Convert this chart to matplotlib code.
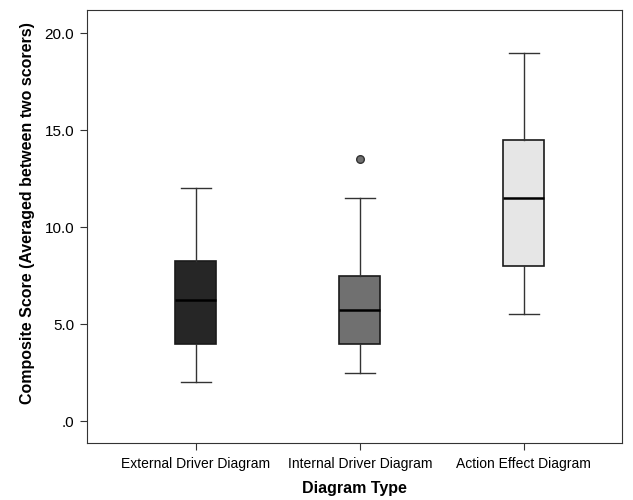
import matplotlib
matplotlib.use("Agg")
import matplotlib.pyplot as plt
from matplotlib.ticker import FuncFormatter

plt.rcParams["font.family"] = ["Liberation Sans", "DejaVu Sans"]

categories = ["External Driver Diagram", "Internal Driver Diagram", "Action Effect Diagram"]
whislo = [2.0, 2.5, 5.5]
q1 = [4.0, 4.0, 8.0]
med = [6.25, 5.75, 11.5]
q3 = [8.25, 7.5, 14.5]
whishi = [12.0, 11.5, 19.0]
fliers = [[], [13.5], []]
box_colors = ["#262626", "#707070", "#e6e6e6"]

stats = []
for i, name in enumerate(categories):
    stats.append(dict(label=name, whislo=whislo[i], q1=q1[i], med=med[i],
                      q3=q3[i], whishi=whishi[i], fliers=fliers[i]))

fig = plt.figure(figsize=(6.33, 5), dpi=100)
ax = fig.add_axes([0.137, 0.114, 0.846, 0.866])

bp = ax.bxp(stats, positions=[1, 2, 3], widths=0.25, patch_artist=True,
            boxprops=dict(edgecolor="#1a1a1a", linewidth=1.2),
            medianprops=dict(color="black", linewidth=1.8),
            whiskerprops=dict(color="#333333", linewidth=1.0),
            capprops=dict(color="#333333", linewidth=1.0),
            flierprops=dict(marker="o", markerfacecolor="#707070",
                            markeredgecolor="#333333", markersize=5.5))
for patch, c in zip(bp["boxes"], box_colors):
    patch.set_facecolor(c)
for cap in bp["caps"]:
    x = cap.get_xdata()
    mid = (x[0] + x[1]) / 2
    cap.set_xdata([mid - 0.09, mid + 0.09])

ax.set_xlim(0.335, 3.6)
ax.set_ylim(-1.13, 21.2)
ax.set_yticks([0, 5, 10, 15, 20])
ax.yaxis.set_major_formatter(FuncFormatter(lambda v, p: ".0" if v == 0 else f"{v:.1f}"))
ax.tick_params(axis="both", color="#333333", length=5)
ax.tick_params(axis="y", labelsize=11, pad=4)
ax.tick_params(axis="x", labelsize=10, pad=5)
for s in ax.spines.values():
    s.set_color("#333333")
ax.set_ylabel("Composite Score (Averaged between two scorers)", fontsize=11.5, fontweight="bold")
ax.yaxis.set_label_coords(-0.097, 0.53)
ax.set_xlabel("Diagram Type", fontsize=11.5, fontweight="bold", labelpad=7)

fig.savefig("out.png", dpi=100)
